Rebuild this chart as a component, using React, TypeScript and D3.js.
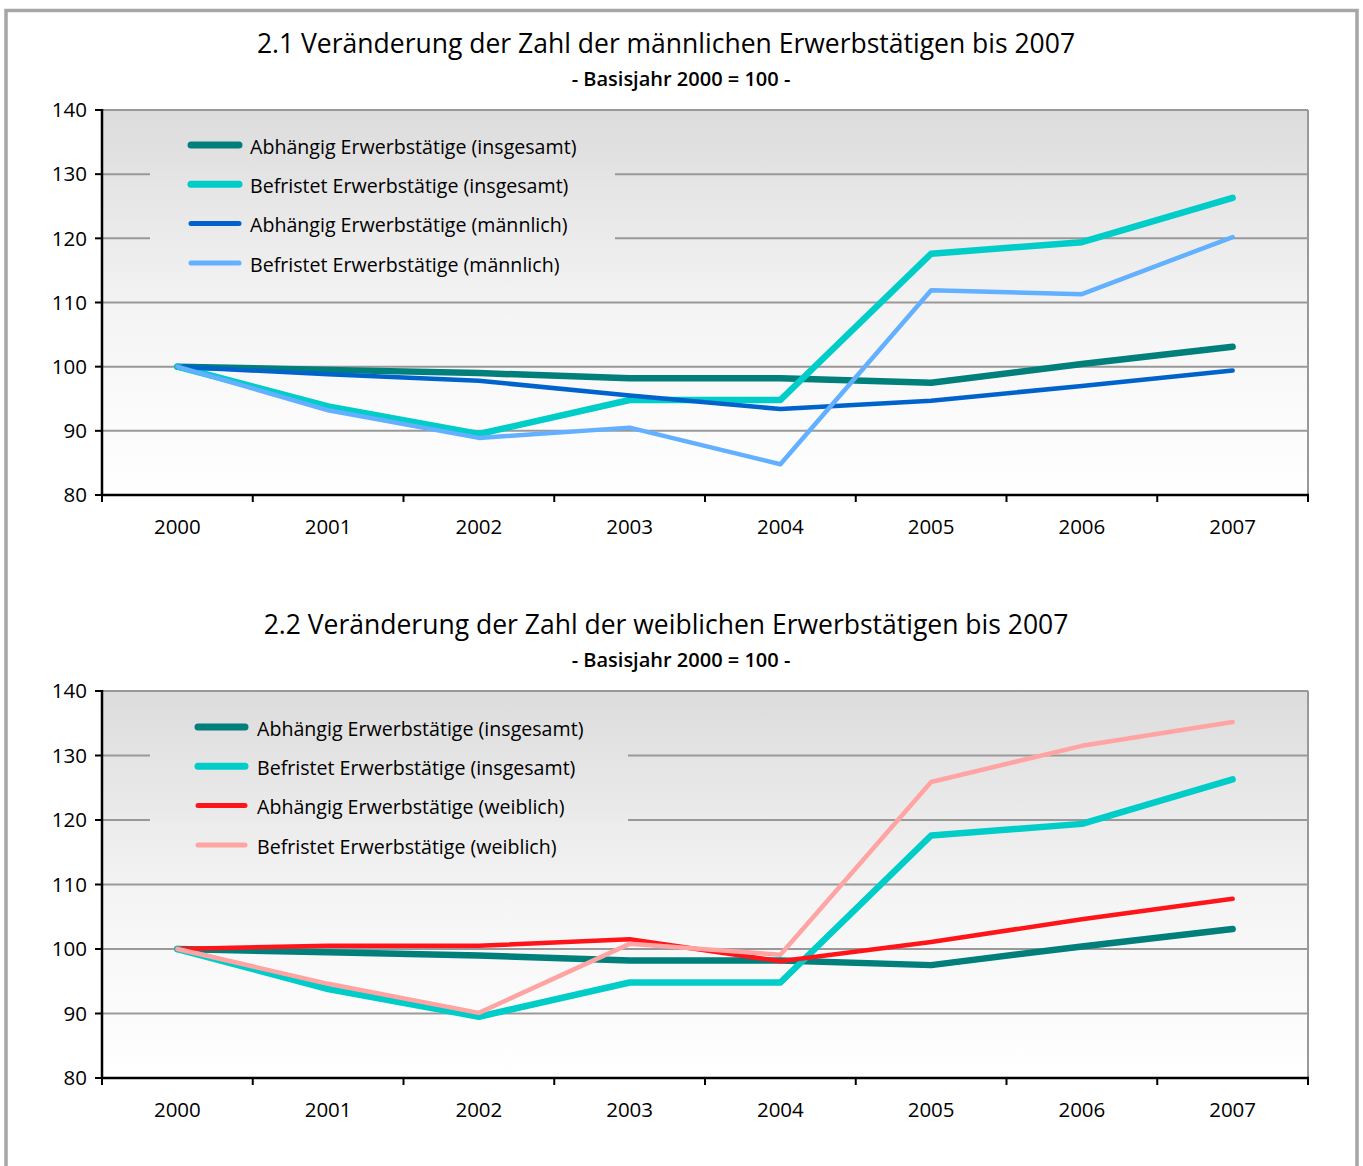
import * as d3 from "d3";

const years = ["2000", "2001", "2002", "2003", "2004", "2005", "2006", "2007"];
const yTicks = [80, 90, 100, 110, 120, 130, 140];

const abhInsg = [100, 99.5, 99.0, 98.2, 98.2, 97.5, 100.4, 103.1];
const befInsg = [100, 93.8, 89.5, 94.8, 94.8, 117.6, 119.4, 126.3];
const abhMaenn = [100, 98.8, 97.8, 95.5, 93.4, 94.7, 97.0, 99.4];
const befMaenn = [100, 93.2, 88.9, 90.5, 84.8, 111.9, 111.3, 120.2];
const abhWeib = [100, 100.5, 100.5, 101.5, 98.1, 101.1, 104.6, 107.8];
const befWeib = [100, 94.6, 90.1, 100.8, 99.1, 125.9, 131.5, 135.2];

const font = "'Open Sans', 'DejaVu Sans', sans-serif";

type Series = { name: string; values: number[]; color: string; width: number };

const series1: Series[] = [
  { name: "Abhängig Erwerbstätige (insgesamt)", values: abhInsg, color: "#007f7b", width: 6.5 },
  { name: "Befristet Erwerbstätige (insgesamt)", values: befInsg, color: "#00cdc8", width: 6.5 },
  { name: "Abhängig Erwerbstätige (männlich)", values: abhMaenn, color: "#0063cc", width: 4.5 },
  { name: "Befristet Erwerbstätige (männlich)", values: befMaenn, color: "#62b0ff", width: 4.5 },
];

const series2: Series[] = [
  { name: "Abhängig Erwerbstätige (insgesamt)", values: abhInsg, color: "#007f7b", width: 6.5 },
  { name: "Befristet Erwerbstätige (insgesamt)", values: befInsg, color: "#00cdc8", width: 6.5 },
  { name: "Abhängig Erwerbstätige (weiblich)", values: abhWeib, color: "#ff1519", width: 4.5 },
  { name: "Befristet Erwerbstätige (weiblich)", values: befWeib, color: "#ffa3a3", width: 4.5 },
];

const left = 102;
const right = 1308;

const Chart = ({ id, title, titleY, top, bottom, series, legend }) => {
  const x = d3.scaleBand().domain(years).range([left, right]).padding(0);
  const y = d3.scaleLinear().domain([80, 140]).range([bottom, top]);
  const cx = (yr: string) => (x(yr) as number) + x.bandwidth() / 2;
  const line = d3
    .line<number>()
    .x((_, i) => cx(years[i]))
    .y((d) => y(d));
  const xTickPos = [...years.map((yr) => x(yr) as number), right];

  return (
    <g>
      <defs>
        <linearGradient id={id} gradientUnits="userSpaceOnUse" x1="0" y1={top} x2="0" y2={bottom}>
          <stop offset="0" stopColor="#dcdcdc" />
          <stop offset="0.55" stopColor="#f5f5f5" />
          <stop offset="1" stopColor="#ffffff" />
        </linearGradient>
      </defs>
      <text x={666} y={titleY} textAnchor="middle" fontSize="26.5" fontFamily={font} fill="#000">
        {title}
      </text>
      <text x={681} y={titleY + 33} textAnchor="middle" fontSize="20" fontWeight="600" fontFamily={font} fill="#000">
        - Basisjahr 2000 = 100 -
      </text>
      <rect x={left} y={top} width={right - left} height={bottom - top} fill={`url(#${id})`} />
      {yTicks.slice(1, -1).map((t) => (
        <line key={t} x1={left} x2={right} y1={y(t)} y2={y(t)} stroke="#999" strokeWidth="2" />
      ))}
      <line x1={left} x2={right} y1={top} y2={top} stroke="#999" strokeWidth="2" />
      <line x1={right} x2={right} y1={top} y2={bottom} stroke="#999" strokeWidth="2" />
      <rect x={legend.x} y={legend.y} width={legend.w} height={legend.h} fill={`url(#${id})`} />
      {series.map((s, i) => (
        <g key={s.name}>
          <line
            x1={legend.sx1}
            x2={legend.sx2}
            y1={legend.y + legend.row0 + i * 39.3}
            y2={legend.y + legend.row0 + i * 39.3}
            stroke={s.color}
            strokeWidth={s.width + 0.5}
            strokeLinecap="round"
          />
          <text
            x={legend.tx}
            y={legend.y + legend.row0 + 2 + i * 39.3}
            dy="0.35em"
            fontSize="19.6"
            fontFamily={font}
            fill="#000"
          >
            {s.name}
          </text>
        </g>
      ))}
      {series.map((s) => (
        <path
          key={s.name}
          d={line(s.values) as string}
          fill="none"
          stroke={s.color}
          strokeWidth={s.width}
          strokeLinecap="round"
          strokeLinejoin="round"
        />
      ))}
      <line x1={left} x2={left} y1={top - 1} y2={bottom + 1} stroke="#000" strokeWidth="2.5" />
      <line x1={left - 1} x2={right + 1} y1={bottom} y2={bottom} stroke="#000" strokeWidth="2.5" />
      {yTicks.map((t) => (
        <g key={t}>
          <line x1={left - 7} x2={left} y1={y(t)} y2={y(t)} stroke="#000" strokeWidth="2" />
          <text x={87} y={y(t)} dy="0.35em" textAnchor="end" fontSize="20.5" fontFamily={font} fill="#000">
            {t}
          </text>
        </g>
      ))}
      {xTickPos.map((p, i) => (
        <line key={i} x1={p} x2={p} y1={bottom} y2={bottom + 7} stroke="#000" strokeWidth="2" />
      ))}
      {years.map((yr) => (
        <text key={yr} x={cx(yr)} y={bottom + 32} dy="0.35em" textAnchor="middle" fontSize="20.5" fontFamily={font} fill="#000">
          {yr}
        </text>
      ))}
    </g>
  );
};

export default function App() {
  return (
    <svg
      width={1363}
      height={1166}
      style={{ position: "absolute", left: 0, top: 0, background: "#fff" }}
    >
      <rect x={6} y={10.5} width={1351} height={1200} fill="#fff" stroke="#a6a6a6" strokeWidth="3.5" />
      <Chart
        id="bg1"
        title="2.1 Veränderung der Zahl der männlichen Erwerbstätigen bis 2007"
        titleY={53}
        top={110}
        bottom={495}
        series={series1}
        legend={{ x: 150, y: 125, w: 465, h: 160, row0: 20, sx1: 191, sx2: 239, tx: 250 }}
      />
      <Chart
        id="bg2"
        title="2.2 Veränderung der Zahl der weiblichen Erwerbstätigen bis 2007"
        titleY={634}
        top={691}
        bottom={1078}
        series={series2}
        legend={{ x: 150, y: 706, w: 478, h: 160, row0: 21, sx1: 198, sx2: 245, tx: 257 }}
      />
    </svg>
  );
}
